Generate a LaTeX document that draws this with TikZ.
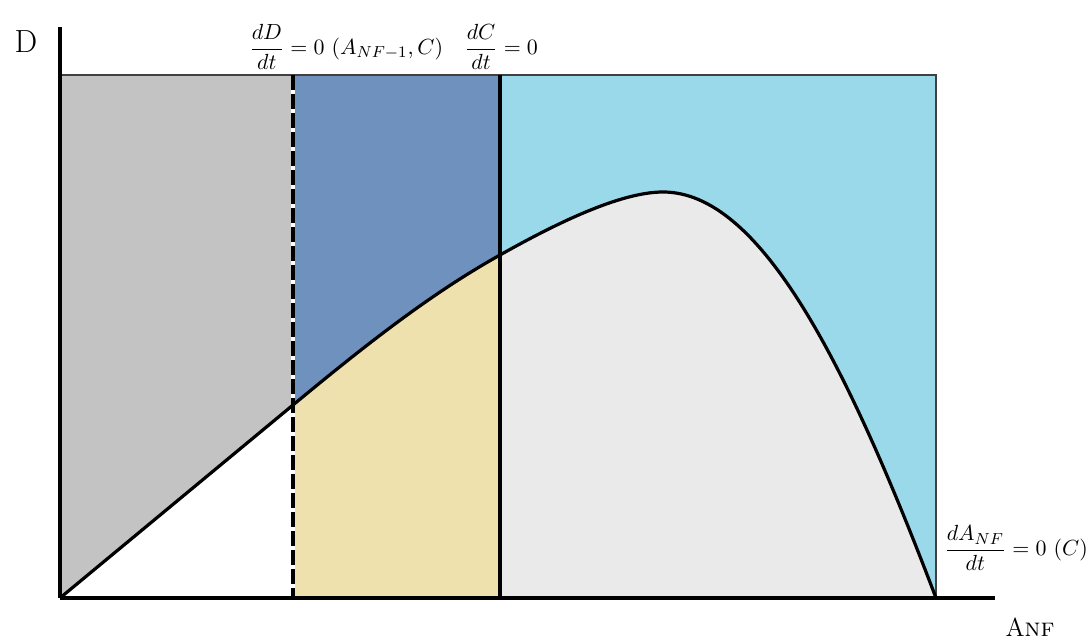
\documentclass[tikz,border=0pt]{standalone}
\usepackage{amsmath}

\definecolor{regGray}{RGB}{195,195,195}
\definecolor{regBlue}{RGB}{111,145,190}
\definecolor{regSky}{RGB}{154,217,233}
\definecolor{regSand}{RGB}{238,225,174}
\definecolor{regPale}{RGB}{234,234,234}

\begin{document}
\begin{tikzpicture}[
    x=0.5pt, y=-0.5pt,
    axis/.style={line width=2pt},
    frame/.style={line width=0.6pt, draw=black!75},
    curve/.style={line width=1.6pt, line join=round},
    eqlabel/.style={font=\fontsize{11}{13}\selectfont, inner sep=0pt},
    axlabel/.style={inner sep=0pt},
  ]
    \useasboundingbox (0,0) rectangle (1086,641);

    % Key points -------------------------------------------------------------
    \coordinate (origin) at (60,598);
    \coordinate (yend)   at (60,27);
    \coordinate (xend)   at (995,598);
    \coordinate (cutA)   at (293,405);
    \coordinate (cutB)   at (500,255);
    \coordinate (peak)   at (663,192);
    \coordinate (root)   at (936,598);

    % Background bands -------------------------------------------------------
    \fill[regGray] (60,75)  rectangle (293,598);
    \fill[regBlue] (293,75) rectangle (500,598);
    \fill[regSky]  (500,75) rectangle (936,598);

    % Region below the curve -------------------------------------------------
    \begin{scope}
      \clip (origin) -- (cutA) .. controls (363,347) and (430,294) .. (cutB)
            .. controls (555,224) and (620,192) .. (peak)
            .. controls (760,192) and (846,361) .. (root) -- cycle;
      \fill[white]    (60,75)  rectangle (293,598);
      \fill[regSand]  (293,75) rectangle (500,598);
      \fill[regPale]  (500,75) rectangle (936,598);
    \end{scope}

    % Frame ------------------------------------------------------------------
    \draw[frame] (60,75) -- (936,75) -- (root);

    % Curve ------------------------------------------------------------------
    \draw[curve] (origin) -- (cutA) .. controls (363,347) and (430,294) .. (cutB)
          .. controls (555,224) and (620,192) .. (peak)
          .. controls (760,192) and (846,361) .. (root);

    % Boundaries -------------------------------------------------------------
    \draw[line width=2pt, white] (293,75) -- (293,598);
    \draw[line width=2pt, dash pattern=on 7.5pt off 2pt] (293,75) -- (293,598);
    \draw[line width=2pt] (500,75) -- (500,598);

    % Axes -------------------------------------------------------------------
    \draw[axis] (origin) -- (yend);
    \draw[axis] (origin) -- (xend);

    % Labels -----------------------------------------------------------------
    \node[axlabel, font=\fontsize{16}{18}\selectfont] (dlab) at (26,42) {D};
    \node[axlabel, font=\fontsize{13}{15}\selectfont] (alab) at (1030,627) {A\textsc{nf}};
    \node[eqlabel, anchor=west] (eqD) at (249,47)
      {$\dfrac{dD}{dt} = 0\ (A_{NF-1},C)$};
    \node[eqlabel, anchor=west] (eqC) at (464,47)
      {$\dfrac{dC}{dt} = 0$};
    \node[eqlabel, anchor=west] (eqA) at (944,548)
      {$\dfrac{dA_{NF}}{dt} = 0\ (C)$};
  \end{tikzpicture}
\end{document}
